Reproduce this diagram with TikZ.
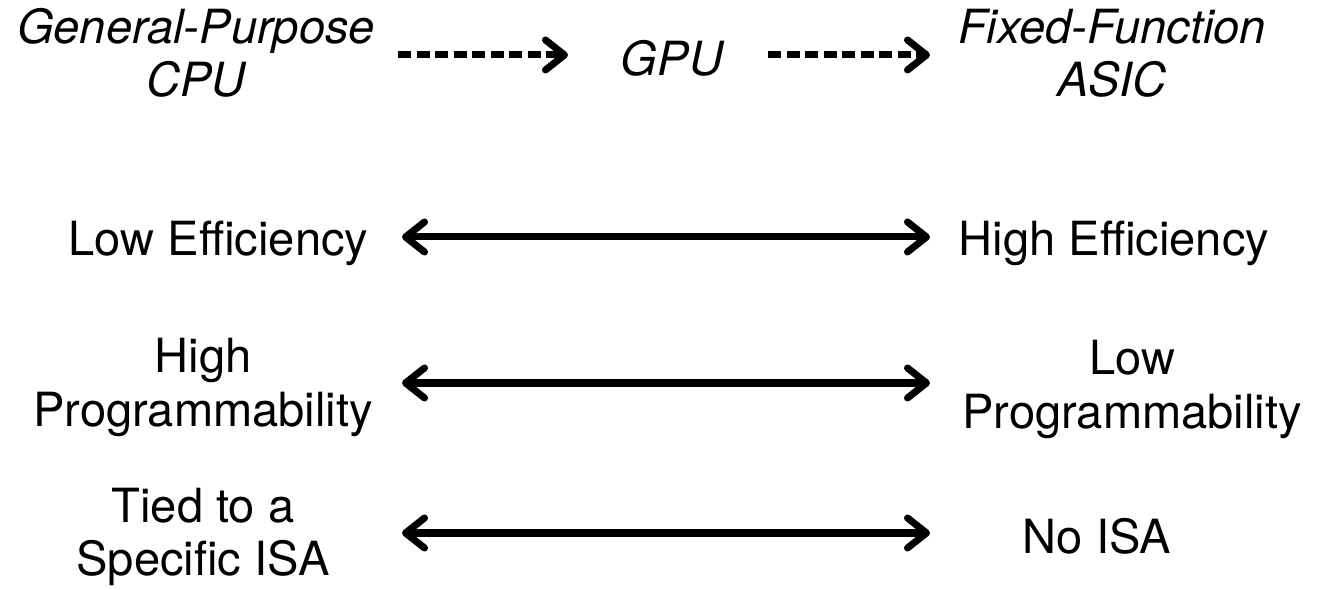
\documentclass[tikz,border=0pt]{standalone}
\usepackage{fontspec}
\setmainfont{TeX Gyre Heros}
\usepackage{xcolor}
\usetikzlibrary{arrows.meta}
\definecolor{ArrowInk}{HTML}{000000}
\definecolor{TextInk}{HTML}{000000}

\begin{document}
\begin{tikzpicture}[x=1cm,y=1cm,
  lbl/.style={inner sep=0pt,align=center,text=TextInk,font=\fontsize{13.4}{15.1}\selectfont},
  ilbl/.style={lbl,font=\fontsize{13.4}{15.1}\selectfont\itshape},
  dasharrow/.style={draw=ArrowInk,line width=2pt,dash pattern=on 0.13cm off 0.055cm,-{Straight Barb[length=1.9mm,width=3.0mm,round]}},
  dualarrow/.style={draw=ArrowInk,line width=2pt,line cap=round,{Straight Barb[length=1.9mm,width=3.0mm,round]}-{Straight Barb[length=1.9mm,width=3.0mm,round]}}]
\path[use as bounding box] (0,0) rectangle (13.23,5.90);
% processor classes
\node[ilbl] (gpcpu) at (1.96,5.37) {General-Purpose\\CPU};
\node[ilbl] (gpu) at (6.72,5.32) {GPU};
\node[ilbl] (ffasic) at (11.12,5.37) {Fixed-Function\\ASIC};
\coordinate (d1a) at (3.98,5.35);
\coordinate (d1b) at (5.68,5.35);
\coordinate (d2a) at (7.68,5.35);
\coordinate (d2b) at (9.30,5.35);
\draw[dasharrow] (d1a) -- (d1b);
\draw[dasharrow] (d2a) -- (d2b);
% trade-offs
\node[lbl] (loweff) at (2.185,3.47) {Low Efficiency};
\node[lbl] (higheff) at (11.14,3.47) {High Efficiency};
\node[lbl] (highprog) at (2.03,2.025) {High\\Programmability};
\node[lbl] (lowprog) at (11.32,2.005) {Low\\Programmability};
\node[lbl] (tiedisa) at (2.03,0.53) {Tied to a\\Specific ISA};
\node[lbl] (noisa) at (10.97,0.54) {No ISA};
\coordinate (r1a) at (4.02,3.53);
\coordinate (r1b) at (9.30,3.53);
\coordinate (r2a) at (4.02,2.07);
\coordinate (r2b) at (9.30,2.07);
\coordinate (r3a) at (4.02,0.57);
\coordinate (r3b) at (9.30,0.57);
\draw[dualarrow] (r1a) -- (r1b);
\draw[dualarrow] (r2a) -- (r2b);
\draw[dualarrow] (r3a) -- (r3b);
\end{tikzpicture}
\end{document}
